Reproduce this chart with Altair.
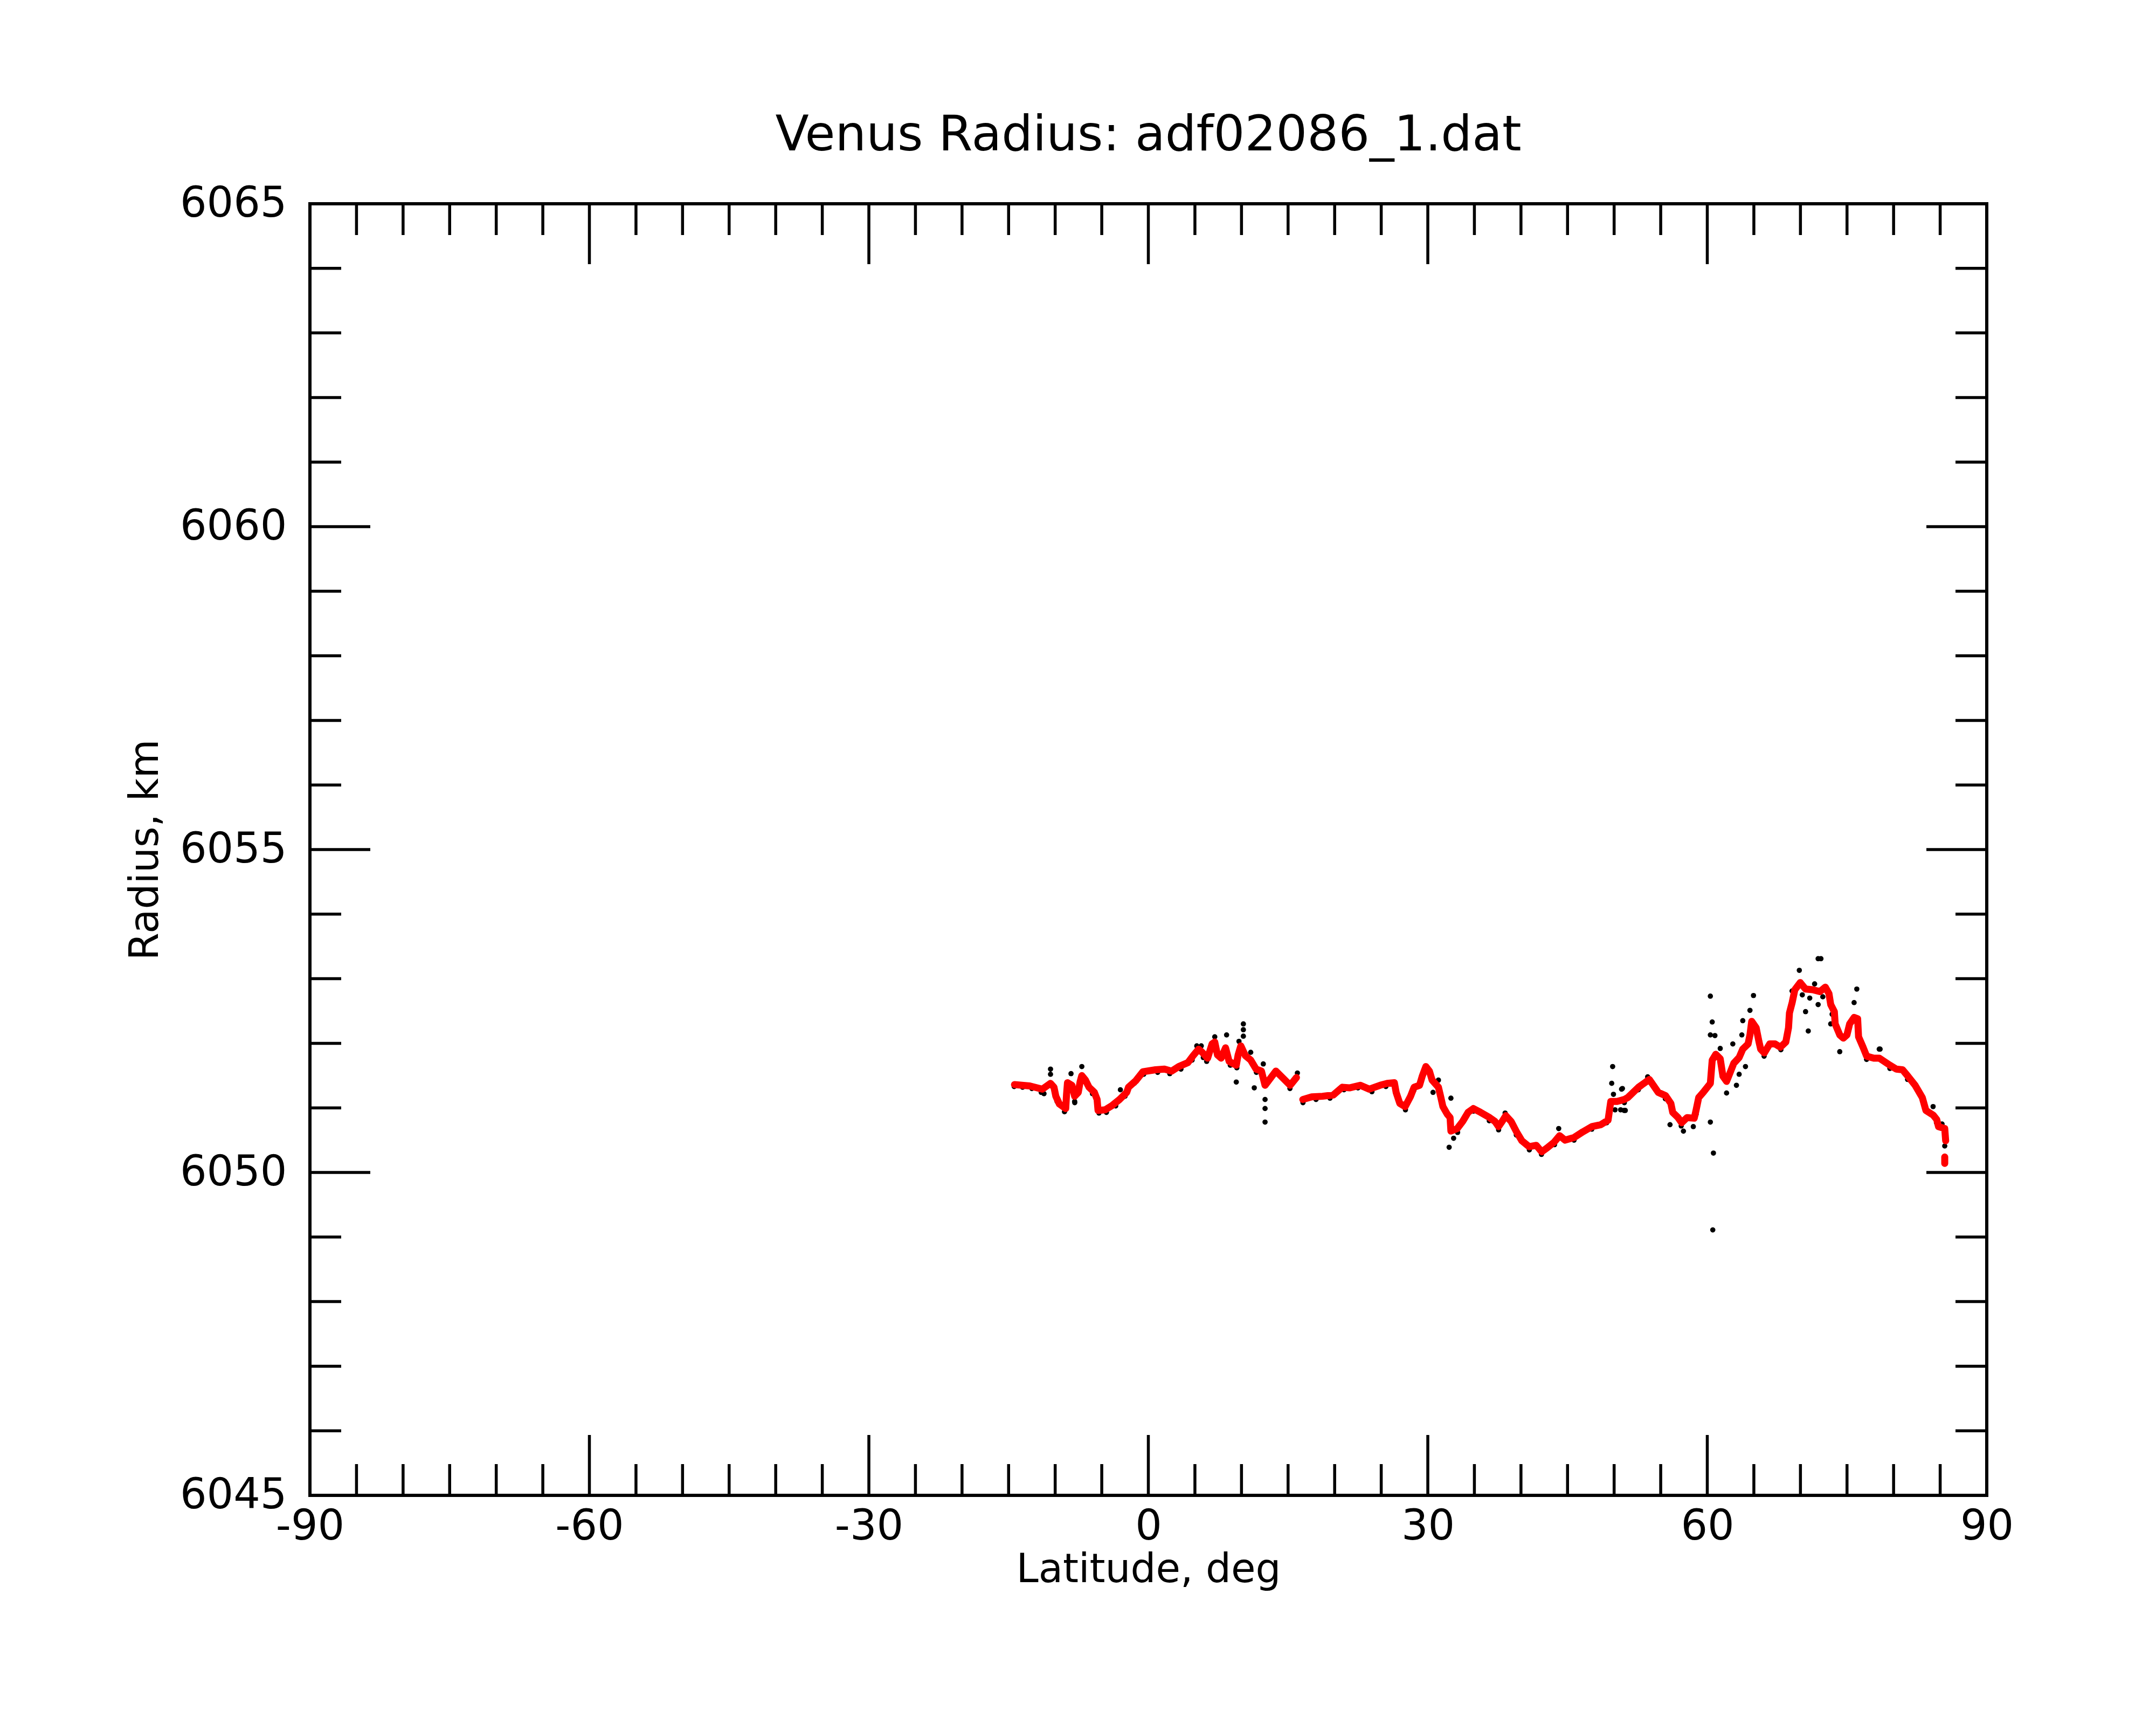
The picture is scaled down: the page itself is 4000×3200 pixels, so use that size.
import altair as alt
import pandas as pd

# ---------------- data ----------------
red_lat = [
    -14.37, -12.73, -11.38, -10.51, -10.13, -9.93, -9.55, -8.87, -8.78, -8.68,
    -8.2, -7.91, -7.52, -7.33, -7.14, -6.75, -6.37, -5.79, -5.5, -5.4,
    -4.63, -3.86, -3.09, -2.32, -2.13, -1.35, -0.58, 0.77, 1.73, 2.5,
    3.27, 4.24, 4.82, 5.4, 5.78, 6.36, 6.84, 7.13, 7.42, 7.81,
    8.29, 8.67, 9.44, 9.64, 9.93, 10.41, 10.99, 11.57, 12.14, 12.53,
    13.11, 13.69, 14.46, 15.23, 15.9,
    16.58, 17.54, 18.7, 19.86, 20.82, 21.59, 22.75, 23.71, 24.87, 25.64,
    26.41, 26.6, 26.99, 27.57, 28.15, 28.53, 29.11, 29.4, 29.79, 30.17,
    30.46, 31.14, 31.42, 31.62, 32.1, 32.39, 32.48, 33.16, 33.74, 34.32,
    34.89, 35.67, 36.63, 37.21, 37.59, 37.98, 38.37, 38.94, 39.52, 40.1,
    40.87, 41.64, 42.22, 42.8, 43.57, 44.15, 44.73, 45.69, 46.65, 47.62,
    48.58, 49.35, 49.64, 50.32, 51.09, 51.47, 52.62, 53.78, 54.74, 55.52,
    56.09, 56.29, 56.86, 57.25, 57.83, 58.6, 58.79, 59.08, 59.56, 60.33,
    60.53, 60.91, 61.39, 61.68, 62.07, 62.46, 62.84, 63.42, 63.81, 64.38,
    64.58, 64.77, 65.25, 65.54, 65.73, 66.12, 66.7, 67.28, 67.85, 68.43,
    68.72, 68.82, 69.11, 69.4, 69.98, 70.55, 71.32, 72.09, 72.67, 73.06,
    73.25, 73.64, 73.73, 74.22, 74.6, 74.99, 75.28, 75.76, 76.14, 76.24,
    76.72, 77.11, 77.88, 78.46, 79.61, 80.29, 80.96, 81.54, 82.31, 83.08,
    83.47, 84.24, 84.63, 84.82, 85.49, 85.59,
    85.49, 85.49,
]
red_r = [
    6051.36, 6051.34, 6051.29, 6051.38, 6051.32, 6051.18, 6051.06, 6050.99, 6051.21, 6051.39,
    6051.35, 6051.18, 6051.24, 6051.40, 6051.50, 6051.43, 6051.32, 6051.24, 6051.13, 6050.96,
    6050.97, 6051.04, 6051.13, 6051.24, 6051.32, 6051.42, 6051.56, 6051.59, 6051.60, 6051.57,
    6051.64, 6051.70, 6051.81, 6051.91, 6051.86, 6051.77, 6051.99, 6052.02, 6051.82, 6051.77,
    6051.93, 6051.72, 6051.66, 6051.82, 6051.96, 6051.81, 6051.74, 6051.60, 6051.57, 6051.35,
    6051.46, 6051.57, 6051.46, 6051.35, 6051.47,
    6051.13, 6051.17, 6051.18, 6051.20, 6051.32, 6051.31, 6051.35, 6051.29, 6051.35, 6051.38,
    6051.39, 6051.24, 6051.07, 6051.02, 6051.18, 6051.32, 6051.35, 6051.49, 6051.64, 6051.57,
    6051.43, 6051.32, 6051.15, 6051.02, 6050.90, 6050.85, 6050.64, 6050.68, 6050.79, 6050.93,
    6050.99, 6050.93, 6050.85, 6050.79, 6050.71, 6050.79, 6050.88, 6050.79, 6050.63, 6050.49,
    6050.40, 6050.42, 6050.32, 6050.38, 6050.47, 6050.57, 6050.50, 6050.54, 6050.63, 6050.71,
    6050.74, 6050.81, 6051.10, 6051.10, 6051.13, 6051.16, 6051.32, 6051.44, 6051.24, 6051.19,
    6051.07, 6050.93, 6050.85, 6050.77, 6050.85, 6050.84, 6050.96, 6051.16, 6051.24, 6051.38,
    6051.74, 6051.83, 6051.76, 6051.49, 6051.41, 6051.55, 6051.69, 6051.78, 6051.91, 6051.99,
    6052.13, 6052.34, 6052.24, 6052.03, 6051.91, 6051.85, 6051.99, 6051.99, 6051.94, 6052.02,
    6052.24, 6052.47, 6052.63, 6052.83, 6052.94, 6052.84, 6052.83, 6052.80, 6052.87, 6052.77,
    6052.60, 6052.49, 6052.30, 6052.13, 6052.08, 6052.13, 6052.30, 6052.40, 6052.38, 6052.10,
    6051.94, 6051.80, 6051.77, 6051.77, 6051.66, 6051.60, 6051.59, 6051.49, 6051.35, 6051.16,
    6050.96, 6050.89, 6050.82, 6050.71, 6050.68, 6050.49,
    6050.24, 6050.14,
]
# the smoothed trace has gaps: first 55 points, main run, last 2 points
red_seg = [0] * 55 + [1] * (len(red_lat) - 57) + [2] * 2

black_trace_lat = [
    -14.4, -13.5, -12.5, -11.5, -11.2, -9.8, -9.0, -7.9, -6.6, -6.0,
    -5.3, -4.5, -3.5, -2.5, -1.5, -0.5, 1.0, 2.3, 3.5, 4.7,
    5.9, 8.8, 9.5, 11.6, 12.9, 15.2, 16.6, 18.0, 19.5, 21.0,
    22.5, 24.0, 25.5, 26.5, 27.6, 28.5, 29.8, 31.2, 33.2, 34.9,
    36.6, 37.6, 38.3, 39.5, 40.9, 42.2, 43.6, 45.7, 47.6, 49.2,
    51.1, 52.6, 53.6, 55.5, 57.2, 58.8, 66.1, 67.9, 69.6, 70.2,
    71.0, 72.4, 73.4, 77.1, 79.6, 81.5, 83.1, 84.6,
]
black_trace_r = [
    6051.33, 6051.32, 6051.30, 6051.24, 6051.22, 6051.10, 6050.94, 6051.08, 6051.36, 6051.22,
    6050.92, 6050.93, 6051.03, 6051.18, 6051.38, 6051.52, 6051.55, 6051.53, 6051.60, 6051.74,
    6051.78, 6051.66, 6051.62, 6051.55, 6051.40, 6051.30, 6051.08, 6051.13, 6051.15, 6051.28,
    6051.31, 6051.25, 6051.33, 6051.36, 6050.97, 6051.27, 6051.60, 6051.27, 6050.62, 6050.95,
    6050.80, 6050.66, 6050.92, 6050.58, 6050.35, 6050.28, 6050.43, 6050.50, 6050.67, 6050.77,
    6051.08, 6051.28, 6051.48, 6051.14, 6050.72, 6050.90, 6051.80, 6051.90, 6052.88, 6052.75,
    6052.70, 6052.72, 6052.45, 6051.75, 6051.61, 6051.44, 6051.11, 6050.77,
]
black_out_lat = [
    -10.5, -10.5, -8.3, -7.91, -7.14, -3.0, 5.2, 5.68, 6.26, 7.13,
    8.4, 9.44, 10.2, 10.2, 10.2, 9.73, 10.99, 11.37, 12.34, 12.53,
    12.53, 12.53, 16.0, 30.56, 31.14, 32.29, 32.48, 32.77, 44.05, 49.74,
    49.84, 49.93, 50.1, 50.7, 50.8, 51.2, 50.89, 51.08, 56.0, 57.44,
    58.5, 60.33, 60.53, 60.33, 60.82, 60.33, 60.66, 60.59, 61.39, 62.07,
    62.74, 63.13, 63.42, 63.71, 63.81, 64.1, 64.58, 64.96, 69.1, 69.88,
    70.55, 70.84, 71.52, 71.9, 71.9, 72.2, 73.25, 74.22, 75.76, 76.05,
    78.46, 78.55, 84.24, 85.2, 85.49,
]
black_out_r = [
    6051.60, 6051.52, 6051.53, 6051.10, 6051.64, 6051.28, 6051.96, 6051.96, 6051.72, 6052.10,
    6052.13, 6051.40, 6052.30, 6052.21, 6052.11, 6052.03, 6051.86, 6051.31, 6051.68, 6051.13,
    6050.99, 6050.78, 6051.54, 6051.24, 6051.43, 6050.39, 6051.15, 6050.53, 6050.68, 6051.38,
    6051.64, 6051.21, 6050.97, 6050.97, 6051.29, 6050.96, 6051.30, 6050.96, 6050.74, 6050.64,
    6050.71, 6052.73, 6052.33, 6052.13, 6052.12, 6050.78, 6050.30, 6049.11, 6051.92, 6051.23,
    6051.99, 6051.35, 6051.52, 6052.13, 6052.35, 6051.64, 6052.51, 6052.74, 6052.81, 6053.13,
    6052.49, 6052.19, 6052.92, 6052.60, 6053.31, 6053.31, 6052.30, 6051.87, 6052.63, 6052.84,
    6051.91, 6051.91, 6051.02, 6050.75, 6050.41,
]

x_major = [-90, -60, -30, 0, 30, 60, 90]
x_minor = [-85, -80, -75, -70, -65, -55, -50, -45, -40, -35, -25, -20, -15, -10, -5,
           5, 10, 15, 20, 25, 35, 40, 45, 50, 55, 65, 70, 75, 80, 85]
y_major = [6045, 6050, 6055, 6060, 6065]
y_minor = [6046, 6047, 6048, 6049, 6051, 6052, 6053, 6054, 6056, 6057, 6058, 6059,
           6061, 6062, 6063, 6064]

TITLE = "Venus Radius: adf02086_1.dat"
XTITLE = "Latitude, deg"
YTITLE = "Radius, km"

# ---------------- layout / style ----------------
W, H = 3111, 2396
MAJ, MIN = 112, 58
TW = 5.5
FONT = "DejaVu Sans"

red_df = pd.DataFrame({"lat": red_lat, "r": red_r, "seg": red_seg,
                       "i": list(range(len(red_lat)))})
black_df = pd.DataFrame({"lat": black_trace_lat + black_out_lat,
                         "r": black_trace_r + black_out_r})

xscale = alt.Scale(domain=[-90, 90], nice=False, zero=False)
yscale = alt.Scale(domain=[6045, 6065], nice=False, zero=False)

# plain hyphen for negative labels, as in the reference
LABEL_EXPR = "datum.value < 0 ? '-' + abs(datum.value) : '' + datum.value"

xaxis = alt.Axis(values=x_major, ticks=False, tickSize=0, domain=False,
                 grid=False, labelFontSize=78, labelFont=FONT, labelColor="black",
                 labelPadding=19, labelFlush=False, labelOverlap=False, labelLimit=0,
                 labelExpr=LABEL_EXPR, titleFontSize=74, titleFont=FONT,
                 titleFontWeight="normal", titleColor="black",
                 titleBaseline="alphabetic", titleY=160, titleX=W / 2,
                 titleAlign="center")
yaxis = alt.Axis(values=y_major, ticks=False, tickSize=0, domain=False,
                 grid=False, labelFontSize=78, labelFont=FONT, labelColor="black",
                 labelPadding=43, labelFlush=False, labelOverlap=False, labelLimit=0,
                 labelExpr=LABEL_EXPR, titleFontSize=74, titleFont=FONT,
                 titleFontWeight="normal", titleColor="black",
                 titleBaseline="alphabetic", titleX=-283, titleY=H / 2,
                 titleAngle=270, titleAlign="center")


def X(field):
    return alt.X(field, type="quantitative", scale=xscale, axis=xaxis, title=XTITLE)


def Y(field):
    return alt.Y(field, type="quantitative", scale=yscale, axis=yaxis, title=YTITLE)


black = alt.Chart(black_df).mark_circle(color="black", size=95, opacity=1).encode(
    x=X("lat"), y=Y("r"),
)
red = alt.Chart(red_df).mark_line(color="#ff0000", strokeWidth=13, strokeCap="round",
                                  strokeJoin="round").encode(
    x=X("lat"), y=Y("r"),
    detail="seg:N",
    order="i:Q",
)


def xticks(vals, length):
    d = pd.DataFrame({"v": vals})
    base = alt.Chart(d).mark_rule(color="black", strokeWidth=TW, strokeCap="butt")
    bottom = base.encode(x=X("v"), y=alt.value(H), y2=alt.value(H - length))
    top = base.encode(x=X("v"), y=alt.value(0), y2=alt.value(length))
    return [bottom, top]


def yticks(vals, length):
    d = pd.DataFrame({"v": vals})
    base = alt.Chart(d).mark_rule(color="black", strokeWidth=TW, strokeCap="butt")
    left = base.encode(y=Y("v"), x=alt.value(0), x2=alt.value(length))
    right = base.encode(y=Y("v"), x=alt.value(W), x2=alt.value(W - length))
    return [left, right]


layers = [black, red] + xticks(x_major, MAJ) + xticks(x_minor, MIN) \
    + yticks(y_major, MAJ) + yticks(y_minor, MIN)

chart = alt.layer(*layers).properties(
    width=W, height=H,
    title=alt.TitleParams(TITLE, fontSize=91, font=FONT, fontWeight="normal",
                          color="black", anchor="middle", frame="group",
                          baseline="alphabetic", offset=5, dy=36),
    autosize=alt.AutoSizeParams(type="none"),
    padding={"left": 567, "top": 370, "right": 306, "bottom": 418},
).resolve_axis(x="shared", y="shared").configure(
    font=FONT, background="white"
).configure_view(stroke="black", strokeWidth=6)

chart.save("out.html", embed_options={"renderer": "svg", "actions": False})
